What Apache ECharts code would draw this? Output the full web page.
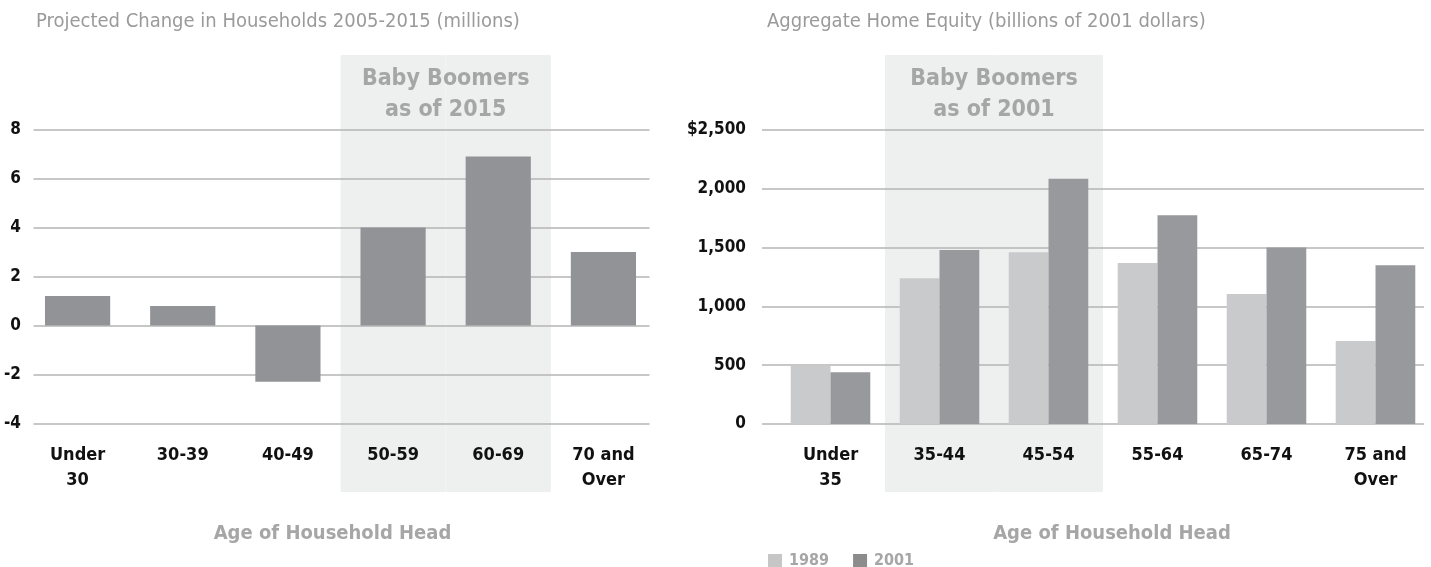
<!DOCTYPE html>
<html>
<head>
<meta charset="utf-8">
<script src="https://cdn.jsdelivr.net/npm/echarts@6/dist/echarts.min.js"></script>
<style>
  html, body { margin: 0; padding: 0; background: #fff; }
  #main { width: 1431px; height: 567px; }
</style>
</head>
<body>
<div id="main"></div>
<script>
// 数据
const householdAges = ['Under\n30', '30-39', '40-49', '50-59', '60-69', '70 and\nOver'];
const householdChange = [1.2, 0.8, -2.3, 4.0, 6.9, 3.0];
const householdBoomers = [0, 0, 0, 1, 1, 0];
const householdTicks = ['-4', '-2', '0', '2', '4', '6', '8'];

const equityAges = ['Under\n35', '35-44', '45-54', '55-64', '65-74', '75 and\nOver'];
const equity1989 = [495, 1240, 1460, 1370, 1105, 705];
const equity2001 = [440, 1480, 2085, 1775, 1500, 1350];
const equityBoomers = [0, 1, 1, 0, 0, 0];
const equityTicks = ['0', '500', '1,000', '1,500', '2,000', '$2,500'];

const FONT = "'Liberation Sans Narrow', 'DejaVu Sans Condensed', 'Roboto Condensed', sans-serif";
const GRAY_TEXT = '#a6a6a6';
const BAND = '#eef0ef';

const chart = echarts.init(document.getElementById('main'));

const hidden = { show: false };
const catLabel = {
  color: '#111',
  fontFamily: FONT,
  fontWeight: 'bold',
  fontSize: 18,
  lineHeight: 25,
  interval: 0
};
const valLabel = {
  color: '#111',
  fontFamily: FONT,
  fontWeight: 'bold',
  fontSize: 17
};
const gridLine = {
  show: true,
  lineStyle: { color: '#b4b4b4', width: 1.6 }
};
const axisName = {
  color: GRAY_TEXT,
  fontFamily: FONT,
  fontWeight: 'bold',
  fontSize: 20
};
// 只画标记为 1 的类目，边框盖住相邻两根之间的缝
const bandData = flags => flags.map(f => (f ? f : '-'));
const bandStyle = { color: BAND, borderColor: BAND, borderWidth: 1 };

const option = {
  animation: false,
  title: [
    {
      text: 'Projected Change in Households 2005-2015 (millions)',
      left: 31, top: 7,
      textStyle: { color: '#9a9a9a', fontFamily: FONT, fontWeight: 'normal', fontSize: 20 }
    },
    {
      text: 'Aggregate Home Equity (billions of 2001 dollars)',
      left: 762, top: 7,
      textStyle: { color: '#9a9a9a', fontFamily: FONT, fontWeight: 'normal', fontSize: 20 }
    }
  ],
  legend: {
    left: 763, top: 548,
    itemWidth: 14, itemHeight: 14, itemGap: 24,
    icon: 'rect',
    textStyle: { color: GRAY_TEXT, fontFamily: FONT, fontWeight: 'bold', fontSize: 16, padding: [0, 0, 0, 2] },
    data: [
      { name: '1989', itemStyle: { color: '#c6c6c6' } },
      { name: '2001', itemStyle: { color: '#8c8c8c' } }
    ]
  },
  grid: [
    // 左图
    { left: 25, width: 631, top: 55, height: 437 },
    { left: 25, width: 631, top: 129.5, height: 294 },
    { left: 33.5, width: 616, top: 129.5, height: 294 },
    // 右图
    { left: 776, width: 654, top: 55, height: 437 },
    { left: 776, width: 654, top: 130, height: 294 },
    { left: 762, width: 662, top: 130, height: 294 }
  ],
  xAxis: [
    { gridIndex: 0, type: 'category', data: householdAges, show: false },
    {
      gridIndex: 1, type: 'category', data: householdAges, z: 3,
      axisLine: hidden, axisTick: hidden,
      axisLabel: Object.assign({ margin: 19 }, catLabel),
      name: 'Age of Household Head', nameLocation: 'middle', nameGap: 100,
      nameTextStyle: Object.assign({ padding: [0, 16, 0, 0] }, axisName)
    },
    { gridIndex: 2, type: 'value', show: false },
    { gridIndex: 3, type: 'category', data: equityAges, show: false },
    {
      gridIndex: 4, type: 'category', data: equityAges, z: 3,
      axisLine: hidden, axisTick: hidden,
      axisLabel: Object.assign({ margin: 18.5 }, catLabel),
      name: 'Age of Household Head', nameLocation: 'middle', nameGap: 100,
      nameTextStyle: Object.assign({ padding: [0, 0, 0, 18] }, axisName)
    },
    { gridIndex: 5, type: 'value', show: false }
  ],
  yAxis: [
    { gridIndex: 0, type: 'value', min: 0, max: 1, show: false },
    { gridIndex: 1, type: 'value', min: -4, max: 8, interval: 2, show: false },
    {
      gridIndex: 2, type: 'value', min: -4, max: 8, interval: 2, z: 2,
      axisLine: hidden, axisTick: hidden, splitLine: gridLine,
      axisLabel: Object.assign({
        margin: 12.5,
        formatter: (v, i) => householdTicks[i]
      }, valLabel)
    },
    { gridIndex: 3, type: 'value', min: 0, max: 1, show: false },
    { gridIndex: 4, type: 'value', min: 0, max: 2500, interval: 500, show: false },
    {
      gridIndex: 5, type: 'value', min: 0, max: 2500, interval: 500, z: 2,
      axisLine: hidden, axisTick: hidden, splitLine: gridLine,
      axisLabel: Object.assign({
        margin: 16,
        formatter: (v, i) => equityTicks[i]
      }, valLabel)
    }
  ],
  series: [
    {
      name: 'boomers-left', type: 'bar', xAxisIndex: 0, yAxisIndex: 0, z: 1,
      barCategoryGap: 0, silent: true,
      itemStyle: bandStyle,
      data: bandData(householdBoomers)
    },
    {
      name: 'change', type: 'bar', xAxisIndex: 1, yAxisIndex: 1, z: 3,
      barCategoryGap: '38%',
      itemStyle: { color: '#929396' },
      data: householdChange
    },
    {
      name: 'boomers-right', type: 'bar', xAxisIndex: 3, yAxisIndex: 3, z: 1,
      barCategoryGap: 0, silent: true,
      itemStyle: bandStyle,
      data: bandData(equityBoomers)
    },
    {
      name: '1989', type: 'bar', xAxisIndex: 4, yAxisIndex: 4, z: 3,
      barGap: 0, barCategoryGap: '27%',
      itemStyle: { color: '#c9cacc' },
      data: equity1989
    },
    {
      name: '2001', type: 'bar', xAxisIndex: 4, yAxisIndex: 4, z: 3,
      barGap: 0, barCategoryGap: '27%',
      itemStyle: { color: '#98999c' },
      data: equity2001
    }
  ]
};

chart.setOption(option);

// 标注文字放在阴影带中间
const bandCenter = (axisIndex, cats, flags) => {
  const xs = cats.filter((c, i) => flags[i]).map(c => chart.convertToPixel({ xAxisIndex: axisIndex }, c));
  return (Math.min(...xs) + Math.max(...xs)) / 2;
};

const boomerText = (x, text) => ({
  type: 'text',
  x: x,
  y: 64,
  z: 5,
  style: {
    text: text,
    align: 'center',
    fill: GRAY_TEXT,
    font: "bold 23px " + FONT,
    lineHeight: 31
  }
});

chart.setOption({
  graphic: [
    boomerText(bandCenter(0, householdAges, householdBoomers), 'Baby Boomers\nas of 2015'),
    boomerText(bandCenter(3, equityAges, equityBoomers), 'Baby Boomers\nas of 2001')
  ]
});

window.addEventListener('resize', () => chart.resize());
</script>
</body>
</html>
